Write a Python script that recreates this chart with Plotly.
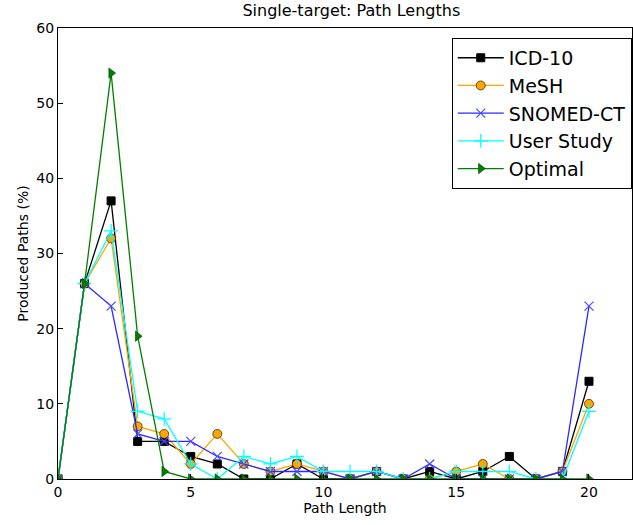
import plotly.graph_objects as go

path_length = list(range(21))

icd10 = [0, 26, 37, 5, 5, 3, 2, 0, 0, 2, 0, 0, 1, 0, 1, 0, 1, 3, 0, 1, 13]
mesh = [0, 26, 32, 7, 6, 2, 6, 2, 1, 2, 1, 0, 1, 0, 0, 1, 2, 0, 0, 1, 10]
snomed = [0, 26, 23, 6, 5, 5, 3, 2, 1, 1, 1, 0, 1, 0, 2, 0, 0, 0, 0, 1, 23]
user_study = [0, 26, 33, 9, 8, 2, 0, 3, 2, 3, 1, 1, 1, 0, 0, 1, 1, 1, 0, 0, 9]
optimal = [0, 26, 54, 19, 1, 0, 0, 0, 0, 0, 0, 0, 0, 0, 0, 0, 0, 0, 0, 0, 0]

series = [
    ("ICD-10", icd10, "black", dict(symbol="square", size=8, color="black",
                                     line=dict(color="black", width=1))),
    ("MeSH", mesh, "orange", dict(symbol="circle", size=9, color="orange",
                                  line=dict(color="black", width=0.6))),
    ("SNOMED-CT", snomed, "#2a2aff", dict(symbol="x-thin", size=9,
                                          line=dict(color="#4a4aff", width=1.2))),
    ("User Study", user_study, "cyan", dict(symbol="cross-thin", size=10,
                                            line=dict(color="cyan", width=1.2))),
    ("Optimal", optimal, "green", dict(symbol="triangle-right", size=9, color="green",
                                       line=dict(color="#004000", width=0.6))),
]

fig = go.Figure()
for name, vals, col, marker in series:
    fig.add_trace(go.Scatter(
        x=path_length, y=vals, name=name, mode="lines+markers",
        line=dict(color=col, width=1.3), marker=marker,
    ))

axis_common = dict(
    showgrid=False, zeroline=False, showline=True, mirror=True,
    linecolor="black", linewidth=1, ticks="inside", ticklen=5,
    tickcolor="black", tickfont=dict(size=14, color="black"),
)

fig.update_layout(
    width=633, height=525,
    margin=dict(l=58, r=1, t=28, b=46),
    paper_bgcolor="white", plot_bgcolor="white",
    font=dict(family="DejaVu Sans", color="black"),
    title=dict(text="Single-target: Path Lengths", x=0.555, xanchor="center",
               y=0.99, yanchor="top", font=dict(size=16)),
    xaxis=dict(range=[0, 21.62], tickvals=[0, 5, 10, 15, 20],
               title=dict(text="Path Length", font=dict(size=14), standoff=4),
               **axis_common),
    yaxis=dict(range=[0, 60], tickvals=[0, 10, 20, 30, 40, 50, 60],
               title=dict(text="Produced Paths (%)", font=dict(size=14), standoff=4),
               **axis_common),
    legend=dict(x=0.686, y=0.978, xanchor="left", yanchor="top",
                bordercolor="black", borderwidth=1, bgcolor="white",
                font=dict(size=19), itemwidth=46, tracegroupgap=0),
    showlegend=True,
)

fig.write_html("out.html")
